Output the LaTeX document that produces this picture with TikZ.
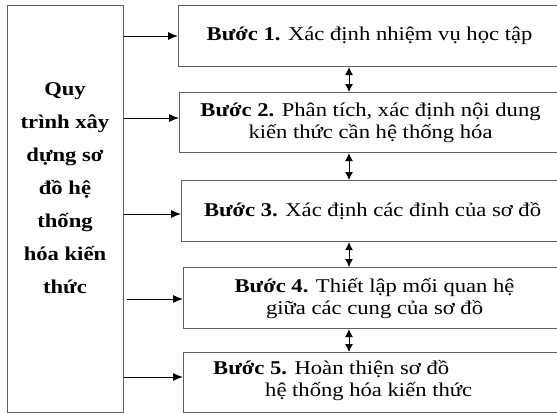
\documentclass[tikz,border=0pt]{standalone}
\usepackage{fontspec}
\setmainfont{Liberation Serif}[FakeStretch=1.16]
\usetikzlibrary{arrows.meta}
\begin{document}
\begin{tikzpicture}[x=1pt,y=-1pt,
  boxline/.style={draw=gray!75!black, line width=1.1pt},
  stepbox/.style={boxline, minimum width=382pt, anchor=north west, inner sep=0pt, align=center, font=\fontsize{19.5}{22}\selectfont},
  steptext/.style={inner sep=0pt, align=left, font=\fontsize{19.5}{22}\selectfont},
  lefttext/.style={inner sep=0pt, align=center, font=\fontsize{19.5}{33}\selectfont\bfseries},
  arr/.style={-{Latex[length=10pt,width=8pt]}, line width=1pt},
  darr/.style={{Latex[length=8pt,width=8pt]}-{Latex[length=8pt,width=8pt]}, line width=1pt}]
\useasboundingbox (0,0) rectangle (557,413);
\clip (0,0) rectangle (557,413);
% left box
\node[boxline, minimum width=116pt, minimum height=407pt, anchor=north west, inner sep=0pt] (L) at (7,5) {};
\node[lefttext] (Lt) at (65,188) {Quy\\trình xây\\dựng sơ\\đồ hệ\\thống\\hóa kiến\\thức};
% step boxes
\node[stepbox, minimum height=61pt] (b1) at (178,5) {\textbf{Bước 1.} Xác định nhiệm vụ học tập};
\node[stepbox, minimum height=60pt] (b2) at (179,92) {\textbf{Bước 2.} Phân tích, xác định nội dung\\kiến thức cần hệ thống hóa};
\node[stepbox, minimum height=61pt] (b3) at (181,180) {\textbf{Bước 3.} Xác định các đỉnh của sơ đồ};
\node[stepbox, minimum height=61pt] (b4) at (183,267) {\textbf{Bước 4.} Thiết lập mối quan hệ\\giữa các cung của sơ đồ};
\node[stepbox, minimum height=60pt] (b5) at (183,352) {};
\node[steptext, anchor=west] (t5) at (213,381) {\textbf{Bước 5.} Hoàn thiện sơ đồ\\\hspace*{52pt}hệ thống hóa kiến thức};
% arrows from left box
\draw[arr] (L.east |- 0,36) -- (b1.west |- 0,36);
\draw[arr] (L.east |- 0,118) -- (b2.west |- 0,118);
\draw[arr] (L.east |- 0,214) -- (b3.west |- 0,214);
\draw[arr] ([xshift=3pt]L.east |- 0,299) -- (b4.west |- 0,299);
\draw[arr] (L.east |- 0,377) -- (b5.west |- 0,377);
% double arrows between steps
\draw[darr] (b1.south -| 349,0) -- (b2.north -| 349,0);
\draw[darr] (b2.south -| 349,0) -- (b3.north -| 349,0);
\draw[darr] (b3.south -| 349,0) -- (b4.north -| 349,0);
\draw[darr] (b4.south -| 349,0) -- (b5.north -| 349,0);
\end{tikzpicture}
\end{document}
